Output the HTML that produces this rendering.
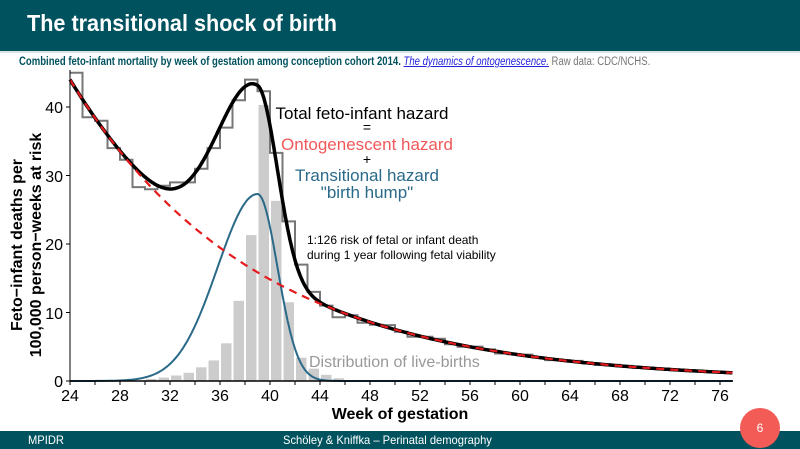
<!DOCTYPE html>
<html><head><meta charset="utf-8"><style>
body{margin:0;width:800px;height:449px;overflow:hidden;background:#fff;font-family:"Liberation Sans",sans-serif;position:relative}
.top{position:absolute;left:0;top:0;width:800px;height:51px;background:#00525e;border-bottom:2px solid #d8e4e6}
.top div{position:absolute;left:27px;top:10px;color:#fff;font-weight:bold;font-size:23px;transform:scaleX(0.94);transform-origin:left;white-space:nowrap}
.sub{position:absolute;left:19px;top:56px;font-size:11.5px;white-space:nowrap;transform:scaleX(0.83);transform-origin:left}
.sub b{color:#00525e}.sub a{color:#2222dd;font-style:italic;text-decoration:underline}.sub span{color:#777}
.foot{position:absolute;left:0;top:431px;width:800px;height:18px;background:#00525e;color:#fff;font-size:12px}
.foot span{transform:scaleX(0.93);transform-origin:left;white-space:nowrap}
.circ{position:absolute;left:740px;top:408px;width:40px;height:40px;border-radius:50%;background:#f35b57;color:#fff;font-size:12px;text-align:center;line-height:40px}
svg{position:absolute;left:0;top:0}
</style></head><body>
<div class="top"><div>The transitional shock of birth</div></div>
<div class="sub"><b>Combined feto-infant mortality by week of gestation among conception cohort 2014.</b> <a>The dynamics of ontogenescence.</a> <span>Raw data: CDC/NCHS.</span></div>
<svg id="s" width="800" height="449" xmlns="http://www.w3.org/2000/svg">
<g id="bars" fill="#cccccc"></g>
<path id="step" fill="none" stroke="#777" stroke-width="2"/>
<path id="hump" fill="none" stroke="#2a6a88" stroke-width="2"/>
<path id="tot" fill="none" stroke="#000" stroke-width="3.5"/>
<path id="ont" fill="none" stroke="#e41a1c" stroke-width="2.2" stroke-dasharray="8,6"/>
<line x1="70" y1="381" x2="733" y2="381" stroke="#000" stroke-width="1.5"/>
<line x1="70" y1="70" x2="70" y2="381" stroke="#000" stroke-width="1"/>
<g id="ticks" stroke="#000" stroke-width="1"></g>
<g font-size="16" text-anchor="end" fill="#000">
<text x="63" y="387">0</text><text x="63" y="319">10</text><text x="63" y="250">20</text><text x="63" y="182">30</text><text x="63" y="113">40</text>
</g>
<g id="xl" font-size="16" text-anchor="middle" fill="#000"></g>
<text x="400" y="419" font-size="16" font-weight="bold" text-anchor="middle">Week of gestation</text>
<g transform="translate(22,245) rotate(-90)" font-size="16" font-weight="bold" text-anchor="middle"><text x="0" y="0">Feto−infant deaths per</text><text x="0" y="19">100,000 person−weeks at risk</text></g>
<g font-size="17" text-anchor="middle">
<text x="362" y="119">Total feto-infant hazard</text>
<text x="367" y="132" font-size="14">=</text>
<text x="367" y="150" fill="#f0585a">Ontogenescent hazard</text>
<text x="367" y="164" font-size="14">+</text>
<text x="367" y="181" fill="#2a6a88">Transitional hazard</text>
<text x="367" y="198" fill="#2a6a88">"birth hump"</text>
</g>
<text x="307" y="244" font-size="12">1:126 risk of fetal or infant death</text>
<text x="307" y="259" font-size="12">during 1 year following fetal viability</text>
<text x="309" y="367" font-size="16" fill="#999">Distribution of live-births</text>
</svg>
<div class="foot"><span style="position:absolute;left:28px;top:2px">MPIDR</span><span style="position:absolute;left:283px;top:2px">Schöley &amp; Kniffka – Perinatal demography</span></div>
<div class="circ">6</div>
<script>
const X=w=>70+(w-24)*12.5, Y=v=>381-v*6.85;
const ont=w=>44*Math.exp(-0.068*(w-24));
const hump=w=>{const d=w-39.0,s=d<0?3.2:1.6;return 27.3*Math.exp(-d*d/(2*s*s));};
const tot=w=>ont(w)+hump(w);
function path(f,a,b){let p='';for(let w=a;w<=b+1e-9;w+=0.1)p+=(p?'L':'M')+X(w).toFixed(1)+','+Y(f(w)).toFixed(1);return p;}
document.getElementById('ont').setAttribute('d',path(ont,24,77));
document.getElementById('hump').setAttribute('d',path(hump,24,77));
document.getElementById('tot').setAttribute('d',path(tot,24,77));
const bars={30:.3,31:.5,32:.8,33:1.2,34:2,35:3,36:5.5,37:11.7,38:21.3,39:40.3,40:26.3,41:11.5,42:3.4,43:1.8,44:.9,45:.4};
let g='';for(const k in bars){const w=+k;g+=`<rect x="${X(w)+1}" y="${Y(bars[k])}" width="10.5" height="${bars[k]*6.85}"/>`;}
document.getElementById('bars').innerHTML=g;
const sv={24:45,25:38.5,26:38,27:34,28:32.3,29:28.3,30:28,31:28.5,32:29,33:29,34:31,35:34,36:37,37:41,38:44,39:42.3,40:33.3,41:23.3,42:17,43:13,44:11,45:9.3,46:9.6,47:8.5,48:8.2};
let sp='';for(let w=24;w<77;w++){let v=sv[w]!==undefined?sv[w]:ont(w+0.5)*(1+0.05*Math.sin(w*1.7));sp+=(sp?'L':'M')+X(w)+','+Y(v).toFixed(1)+'L'+X(w+1)+','+Y(v).toFixed(1);}
document.getElementById('step').setAttribute('d',sp);
let t='',xl='';for(let w=24;w<=76;w+=2){t+=`<line x1="${X(w)}" y1="381" x2="${X(w)}" y2="385"/>`;if(w%4==0)xl+=`<text x="${X(w)}" y="401">${w}</text>`;}
for(const v of [0,10,20,30,40])t+=`<line x1="66" y1="${Y(v)}" x2="70" y2="${Y(v)}"/>`;
document.getElementById('ticks').innerHTML=t;document.getElementById('xl').innerHTML=xl;
</script>
</body></html>
